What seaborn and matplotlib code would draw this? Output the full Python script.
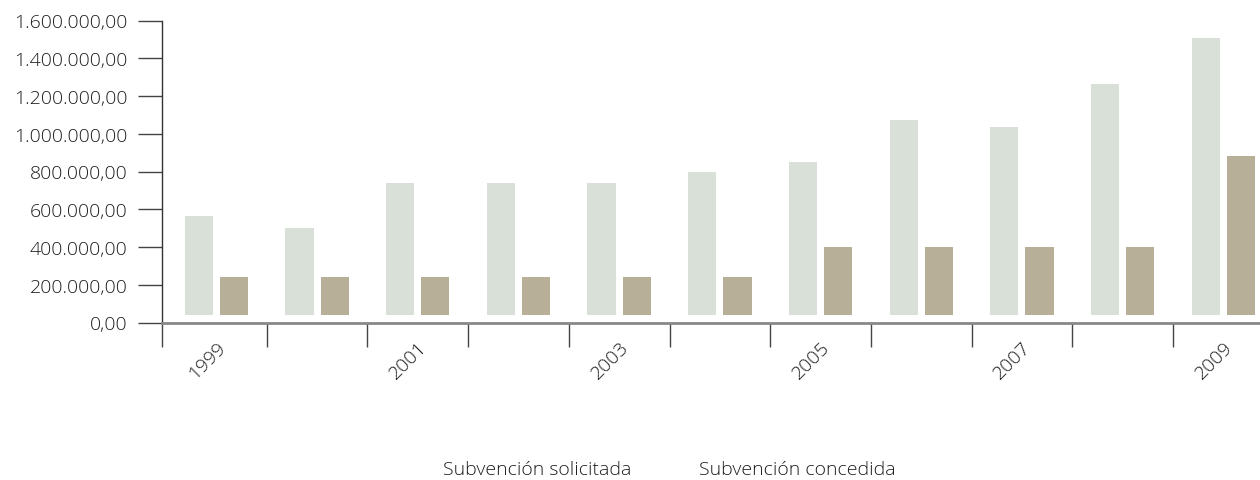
import numpy as np
import pandas as pd
import matplotlib
matplotlib.use("Agg")
import matplotlib.pyplot as plt
from matplotlib.ticker import FuncFormatter, FixedLocator
from matplotlib.patches import Patch
import seaborn as sns

# ---- data ----
years = ["1999", "2000", "2001", "2002", "2003", "2004", "2005", "2006", "2007", "2008", "2009"]
solicitada = [564000, 501000, 739000, 739000, 739000, 797000, 850000, 1072000, 1036000, 1264000, 1507000]
concedida = [241000, 241000, 241000, 241000, 241000, 241000, 400000, 400000, 400000, 400000, 882000]
series_names = ["Subvención solicitada", "Subvención concedida"]
colors = ["#d9e0d8", "#b7af97"]
base = 40000  # bars in the original float slightly above the zero line

df = pd.DataFrame({
    "year": years * 2,
    "serie": [series_names[0]] * len(years) + [series_names[1]] * len(years),
    "value": solicitada + concedida,
})
df["height"] = df["value"] - base

sns.set_theme(style="white")
plt.rcParams["font.family"] = ["Open Sans", "DejaVu Sans"]
plt.rcParams["font.weight"] = "light"
text_color = "#1e1e1e"

fig = plt.figure(figsize=(12.6, 4.81), dpi=100)
ax = fig.add_axes([162 / 1260, (481 - 323.5) / 481, (1273.7 - 162) / 1260, (323.5 - 21.5) / 481])

sns.barplot(data=df, x="year", y="height", hue="serie", hue_order=series_names,
            palette=colors, width=0.7, gap=0.2, bottom=base, saturation=1,
            linewidth=0, legend=False, ax=ax)

ax.set_xlim(-0.54, 10.5)
ax.set_ylim(0, 1600000)
ax.set_yticks(np.arange(0, 1600001, 200000))
ax.yaxis.set_major_formatter(FuncFormatter(
    lambda v, p: f"{v:,.2f}".replace(",", "X").replace(".", ",").replace("X", ".")))

ax.set_xticks(range(len(years)))
ax.set_xticklabels([y if i % 2 == 0 else "" for i, y in enumerate(years)],
                   rotation=45, ha="right", rotation_mode="anchor")
ax.xaxis.set_minor_locator(FixedLocator([-0.54] + [i + 0.5 for i in range(len(years))]))

ax.tick_params(axis="x", which="major", length=0, pad=11, labelsize=14, labelcolor=text_color)
ax.tick_params(axis="x", which="minor", length=17.3, width=1, color="#444444", direction="out", bottom=True)
ax.tick_params(axis="y", which="major", length=17.3, width=1, color="#444444", direction="out",
               pad=7.5, labelsize=14, labelcolor=text_color, left=True)

ax.set_xlabel("")
ax.set_ylabel("")
for s in ["top", "right"]:
    ax.spines[s].set_visible(False)
ax.spines["left"].set_color("#333333")
ax.spines["left"].set_linewidth(1)
ax.spines["bottom"].set_color("#888888")
ax.spines["bottom"].set_linewidth(2)

handles = [Patch(facecolor=c, label=n) for c, n in zip(colors, series_names)]
leg = fig.legend(handles=handles, loc="center", bbox_to_anchor=(669.5 / 1260, 1 - 470 / 481),
                 ncol=2, frameon=False, handlelength=0, handletextpad=0, columnspacing=3.45,
                 fontsize=14)
for h in leg.legend_handles:
    h.set_visible(False)
for t in leg.get_texts():
    t.set_color(text_color)

fig.savefig("out.png", dpi=100)
